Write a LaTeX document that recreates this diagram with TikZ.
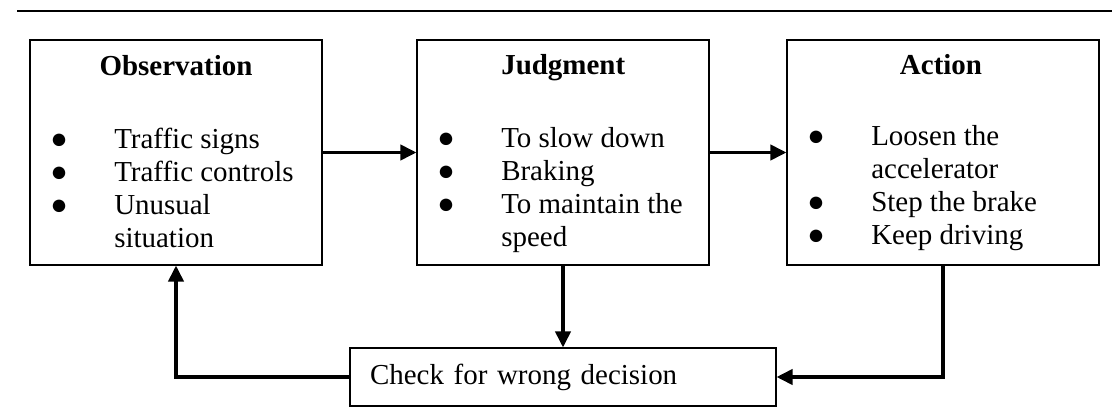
\documentclass[tikz,border=0pt]{standalone}
\usepackage{fontspec}
\setmainfont{Liberation Serif}
\usetikzlibrary{arrows.meta, positioning}

\newcommand{\bul}{\makebox[1.6cm][l]{●}}
\newcommand{\nobul}{\hspace*{1.6cm}}

\begin{document}
\begin{tikzpicture}[>={Triangle[length=0.4cm, width=0.38cm]},
  box/.style={draw, line width=0.8pt, minimum height=5.625cm, inner sep=0pt},
  flow/.style={->, line width=2.4pt},
  title/.style={font=\fontsize{20.6}{23.4}\selectfont\bfseries, anchor=base, inner sep=0pt},
  list/.style={font=\fontsize{20.6}{23.4}\selectfont, align=left, anchor=north west, inner sep=0pt}]

% Frame and rule on top
\useasboundingbox (0,0) rectangle (27.8,10.3);
\draw[line width=0.8pt] (0.425,10.025) -- (27.8,10.025);

% --- The three stages ---
\node[box, minimum width=7.3cm] (obs) at (4.4,6.4875) {};
\node[title] (obstitle) at (4.4,8.4) {Observation};
\node[list] (obslist) at (1.25,7.1) {\bul Traffic signs\\ \bul Traffic controls\\ \bul Unusual\\ \nobul situation};

\node[box, minimum width=7.3cm] (judg) at (14.075,6.4875) {};
\node[title, anchor=base west] (judgtitle) at (12.525,8.425) {Judgment};
\node[list] (judglist) at (10.925,7.125) {\bul To slow down\\ \bul Braking\\ \bul To maintain the\\ \nobul speed};

\node[box, minimum width=7.8cm] (act) at (23.575,6.4875) {};
\node[title] (acttitle) at (23.525,8.425) {Action};
\node[list] (actlist) at (20.175,7.175) {\bul Loosen the\\ \nobul accelerator\\ \bul Step the brake\\ \bul Keep driving};

% --- Feedback box ---
\node[draw, line width=0.8pt, minimum height=1.45cm, inner xsep=0.5cm, text width=9.65cm,
      align=left, font=\fontsize{20.6}{23.4}\selectfont] (check) at (14.075,0.875)
  {Check for wrong decision};

% --- Connectors ---
\draw[flow] (obs) -- (judg);
\draw[flow] (judg) -- (act);
\draw[flow] (judg.south) -- (check.north);
\draw[flow] (act.south) |- (check.east);
\draw[flow] (check.west) -| (obs.south);

\end{tikzpicture}
\end{document}
